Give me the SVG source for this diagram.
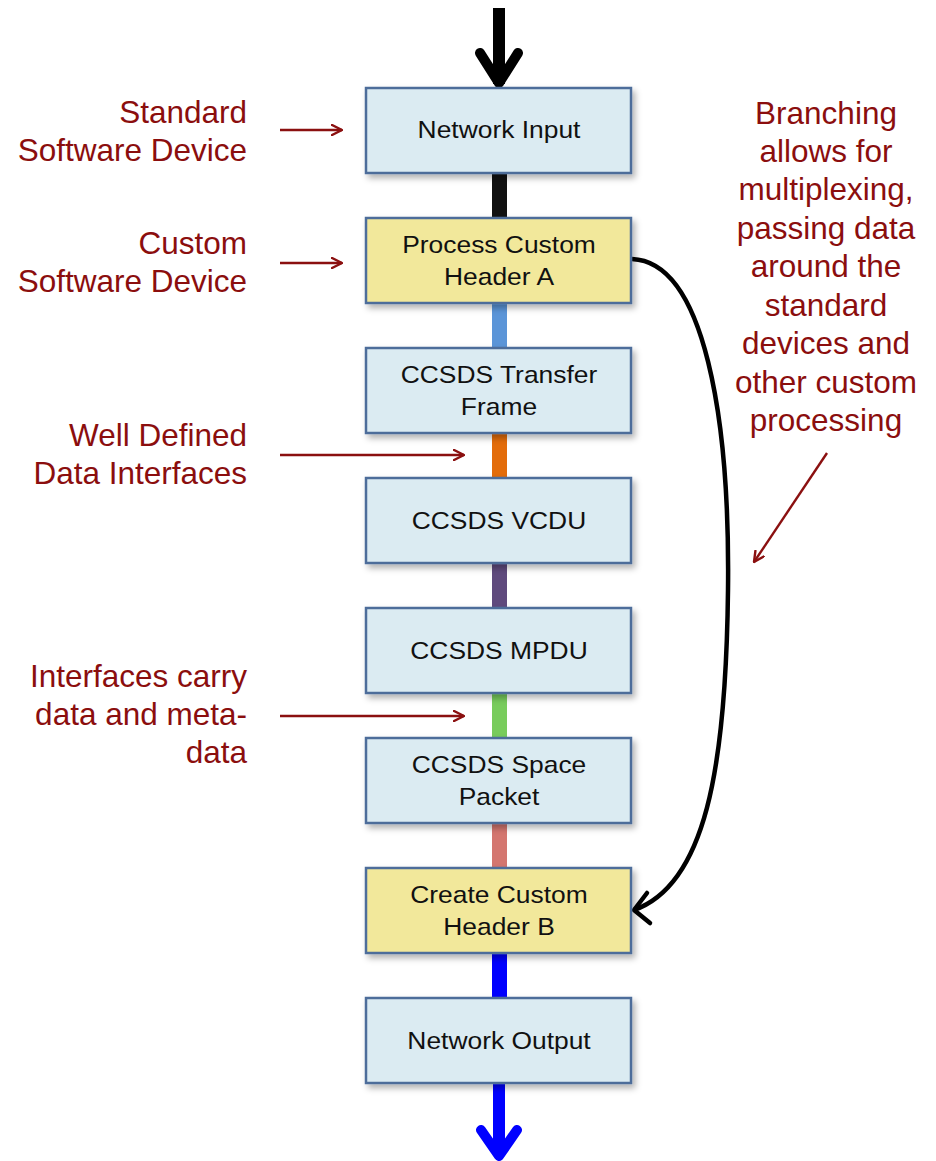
<svg xmlns="http://www.w3.org/2000/svg" width="936" height="1161" viewBox="0 0 936 1161">
<style>
.box{stroke:#4d6d9a;stroke-width:2.5;filter:url(#sh)}
.std{fill:#dbebf2}
.cus{fill:#f2e89b}
.bt{font-family:"Liberation Sans",Arial,sans-serif;font-size:24px;fill:#111;text-anchor:middle}
.lt{font-family:"Liberation Sans",Arial,sans-serif;font-size:31.5px;fill:#8b0e0e;text-anchor:end}
.rt{font-family:"Liberation Sans",Arial,sans-serif;font-size:31.5px;fill:#8b0e0e;text-anchor:middle}
.ra{stroke:#8b1010;stroke-width:2.4;fill:none}
.bar{stroke:none}
</style>
<defs>
<filter id="sh" x="-10%" y="-20%" width="125%" height="150%">
<feDropShadow dx="3" dy="4" stdDeviation="3" flood-color="#000" flood-opacity="0.3"/>
</filter>
<marker id="ah" viewBox="0 0 12 12" refX="11" refY="6" markerWidth="12" markerHeight="12" markerUnits="userSpaceOnUse" orient="auto">
<path d="M1,1 L11,6 L1,11" fill="none" stroke="#8b1010" stroke-width="2.4" stroke-linecap="round" stroke-linejoin="round"/>
</marker>
</defs>
<g id="connectors">
<line x1="499" y1="8" x2="499" y2="84" stroke="#000" stroke-width="12"/>
<polyline points="480,53 499,83 518,53" fill="none" stroke="#000" stroke-width="10" stroke-linecap="round" stroke-linejoin="round"/>
<rect class="bar" x="492" y="172" width="15" height="47" fill="#111"/>
<rect class="bar" x="492" y="302" width="15" height="47" fill="#5b95d8"/>
<rect class="bar" x="492" y="432" width="15" height="47" fill="#e36c0a"/>
<rect class="bar" x="492" y="562" width="15" height="47" fill="#5f4a7d"/>
<rect class="bar" x="492" y="692" width="15" height="47" fill="#78cc5c"/>
<rect class="bar" x="492" y="822" width="15" height="47" fill="#d4766f"/>
<rect class="bar" x="492" y="952" width="15" height="47" fill="#0000ff"/>
<line x1="499" y1="1083" x2="499" y2="1154" stroke="#0000ff" stroke-width="12"/>
<polyline points="481,1130 499,1156 517,1130" fill="none" stroke="#0000ff" stroke-width="10" stroke-linecap="round" stroke-linejoin="round"/>
<path d="M632,259 C705,262 730,420 728,590 C726,770 705,885 634,910" fill="none" stroke="#000" stroke-width="4.5"/>
<polyline points="647,893 634,910 650,923" fill="none" stroke="#000" stroke-width="4.5" stroke-linecap="round" stroke-linejoin="round"/>
<line class="ra" x1="280" y1="130" x2="342" y2="130" marker-end="url(#ah)"/>
<line class="ra" x1="280" y1="263" x2="342" y2="263" marker-end="url(#ah)"/>
<line class="ra" x1="280" y1="455" x2="464" y2="455" marker-end="url(#ah)"/>
<line class="ra" x1="280" y1="716" x2="464" y2="716" marker-end="url(#ah)"/>
<line class="ra" x1="827" y1="453" x2="754" y2="562" marker-end="url(#ah)"/>
</g>
<g id="n1"><rect class="box std" x="366" y="88" width="265" height="85"/><text class="bt" transform="translate(499,138) scale(1.1,1)">Network Input</text></g>
<g id="n2"><rect class="box cus" x="366" y="218" width="265" height="85"/><text class="bt" transform="translate(499,253) scale(1.1,1)">Process Custom</text><text class="bt" transform="translate(499,285) scale(1.1,1)">Header A</text></g>
<g id="n3"><rect class="box std" x="366" y="348" width="265" height="85"/><text class="bt" transform="translate(499,383) scale(1.1,1)">CCSDS Transfer</text><text class="bt" transform="translate(499,415) scale(1.1,1)">Frame</text></g>
<g id="n4"><rect class="box std" x="366" y="478" width="265" height="85"/><text class="bt" transform="translate(499,529) scale(1.1,1)">CCSDS VCDU</text></g>
<g id="n5"><rect class="box std" x="366" y="608" width="265" height="85"/><text class="bt" transform="translate(499,659) scale(1.1,1)">CCSDS MPDU</text></g>
<g id="n6"><rect class="box std" x="366" y="738" width="265" height="85"/><text class="bt" transform="translate(499,773) scale(1.1,1)">CCSDS Space</text><text class="bt" transform="translate(499,805) scale(1.1,1)">Packet</text></g>
<g id="n7"><rect class="box cus" x="366" y="868" width="265" height="85"/><text class="bt" transform="translate(499,903) scale(1.1,1)">Create Custom</text><text class="bt" transform="translate(499,935) scale(1.1,1)">Header B</text></g>
<g id="n8"><rect class="box std" x="366" y="998" width="265" height="85"/><text class="bt" transform="translate(499,1049) scale(1.1,1)">Network Output</text></g>
<g id="labels">
<text class="lt" x="247" y="123">Standard</text>
<text class="lt" x="247" y="161">Software Device</text>
<text class="lt" x="247" y="254">Custom</text>
<text class="lt" x="247" y="292">Software Device</text>
<text class="lt" x="247" y="446">Well Defined</text>
<text class="lt" x="247" y="484">Data Interfaces</text>
<text class="lt" x="247" y="687">Interfaces carry</text>
<text class="lt" x="247" y="725">data and meta-</text>
<text class="lt" x="247" y="763">data</text>
<text class="rt" x="826" y="124">Branching</text>
<text class="rt" x="826" y="162">allows for</text>
<text class="rt" x="826" y="200">multiplexing,</text>
<text class="rt" x="826" y="239">passing data</text>
<text class="rt" x="826" y="277">around the</text>
<text class="rt" x="826" y="316">standard</text>
<text class="rt" x="826" y="354">devices and</text>
<text class="rt" x="826" y="393">other custom</text>
<text class="rt" x="826" y="431">processing</text>
</g>
</svg>
